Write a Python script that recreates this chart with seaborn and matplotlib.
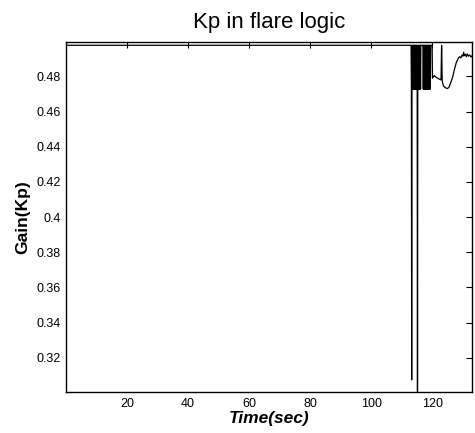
import pandas as pd
import matplotlib
matplotlib.use("Agg")
import matplotlib.pyplot as plt
import seaborn as sns

# Gain Kp (time in sec)
hi = 0.4977
lo = 0.4728

time = [0.0, 113.0,
        113.1, 113.2, 113.3, 113.4, 113.5, 113.6, 113.7, 113.8, 113.9, 114.0,
        114.1, 114.2, 114.3, 114.4, 114.5, 114.6, 114.7, 114.8, 114.9, 115.0,
        115.1, 115.2, 115.3, 115.4, 115.5, 115.6, 115.7, 115.8, 115.9, 116.0,
        116.1, 116.2, 116.9,
        117.0, 117.1, 117.2, 117.3, 117.4, 117.5, 117.6, 117.7, 117.8, 117.9,
        118.0, 118.1, 118.2, 118.3, 118.4, 118.5, 118.6,
        118.7, 118.8, 118.9, 119.0, 119.1, 119.2, 119.3, 119.4, 119.9,
        120.0, 120.6, 121.2, 121.7, 122.2, 122.8, 123.0, 123.2, 123.6,
        124.3, 124.9, 125.4, 126.0, 126.6, 127.2, 127.8, 128.5, 128.9,
        129.3, 129.7, 130.0, 130.2, 130.4, 130.8, 131.1, 131.4, 131.8,
        132.2, 132.6, 133.0]

kp = [hi, hi,
      lo, 0.3074, hi, lo, hi, lo, hi, lo, hi, lo,
      hi, lo, hi, lo, hi, lo, hi, lo, hi, lo,
      0.2995, hi, lo, hi, lo, hi, lo, hi, lo, hi,
      lo, hi, hi,
      lo, hi, lo, hi, lo, hi, lo, hi, lo, hi,
      lo, hi, lo, hi, lo, hi, hi,
      lo, hi, lo, hi, lo, hi, lo, hi, hi,
      0.4790, 0.4805, 0.4795, 0.4790, 0.4785, 0.4780, hi, 0.4775, 0.4745,
      0.4735, 0.4731, 0.4738, 0.4765, 0.4795, 0.4840, 0.4878, 0.4905, 0.4912,
      0.4905, 0.4922, 0.4915, 0.4937, 0.4918, 0.4926, 0.4912, 0.4928, 0.4915,
      0.4922, 0.4910, 0.4918]

x_ticks = [20, 40, 60, 80, 100, 120]
y_ticks = [0.32, 0.34, 0.36, 0.38, 0.40, 0.42, 0.44, 0.46, 0.48]
y_tick_labels = ["0.32", "0.34", "0.36", "0.38", "0.4", "0.42", "0.44", "0.46", "0.48"]

df = pd.DataFrame({"Time": time, "Kp": kp})

sns.set_style("white")
plt.rcParams["font.family"] = ["Liberation Sans", "DejaVu Sans"]
plt.rcParams["text.color"] = "black"
plt.rcParams["axes.labelcolor"] = "black"

fig = plt.figure(figsize=(4.75, 4.33), dpi=100)
ax = fig.add_axes([0.139, 0.0947, 0.855, 0.808])

sns.lineplot(data=df, x="Time", y="Kp", color="black", linewidth=0.9,
             sort=False, estimator=None, ax=ax)

ax.set_xlim(0, 133)
ax.set_ylim(0.3005, 0.4995)
ax.set_xticks(x_ticks)
ax.set_xticklabels([str(v) for v in x_ticks])
ax.set_yticks(y_ticks)
ax.set_yticklabels(y_tick_labels)
ax.tick_params(direction="in", top=True, right=True, length=4, width=0.8,
               labelsize=9, pad=4, colors="black")

for s in ax.spines.values():
    s.set_visible(True)
    s.set_color("black")
    s.set_linewidth(1.0)

ax.set_title("Kp in flare logic", fontsize=16, pad=10, color="black")
ax.set_xlabel("Time(sec)", fontsize=12.5, fontweight="bold", fontstyle="italic",
              labelpad=1, color="black")
ax.set_ylabel("Gain(Kp)", fontsize=12.5, fontweight="bold", labelpad=4, color="black")

fig.savefig("out.png", dpi=100)
